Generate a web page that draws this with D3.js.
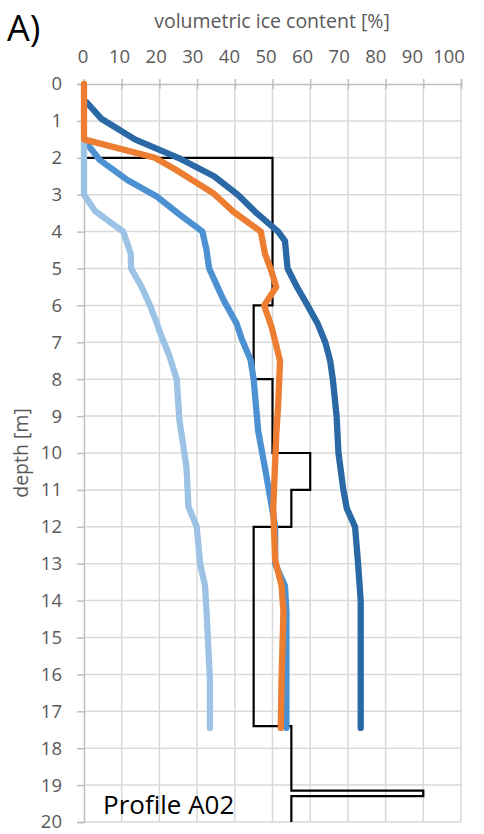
<!DOCTYPE html>
<html>
<head>
<meta charset="utf-8">
<script src="https://cdn.jsdelivr.net/npm/d3@7"></script>
<style>
  html, body { margin: 0; padding: 0; background: #fff; }
  svg { display: block; }
  text { font-family: "Open Sans", sans-serif; }
</style>
</head>
<body>
<svg id="chart" width="484" height="834"></svg>
<script>
// ---- data ----
const xTicks = [0, 10, 20, 30, 40, 50, 60, 70, 80, 90, 100];
const yTicks = d3.range(0, 21);

// stratigraphic ice content (step line): [depth, ice %]
const stepDepth = [2, 2, 6, 6, 8, 8, 10, 10, 11, 11, 12, 12, 17.4, 17.4, 19.15, 19.15, 19.3, 19.3, 20];
const stepIce   = [0, 50, 50, 45, 45, 50, 50, 60, 60, 55, 55, 45, 45, 55, 55, 90, 90, 55, 55];

const depthDark = [0.5, 0.95, 1.5, 2, 2.5, 3, 3.5, 4, 4.25, 5, 5.5, 6, 6.5, 7, 7.5, 8, 9, 10, 11, 11.5, 12, 13, 14, 15, 16, 17.45];
const iceDark   = [0.7, 4.7, 13.5, 25, 34.5, 40.8, 45.8, 51.5, 53.3, 54, 56.5, 59.3, 62, 64, 65.3, 66, 67, 67.5, 68.8, 69.7, 71.9, 72.7, 73.4, 73.4, 73.4, 73.4];

const depthMid = [1.56, 2.06, 2.6, 3.05, 3.55, 4, 4.5, 5, 5.85, 6.5, 6.9, 7.48, 8, 9.4, 10.4, 11.45, 12, 13, 13.6, 14.3, 15, 16, 17.45];
const iceMid   = [0.3, 4.2, 11.5, 19.3, 25.5, 31.4, 32.5, 33.2, 37, 40.5, 41.8, 44.2, 45, 46.2, 48, 49.8, 50.7, 50.7, 53.3, 53.7, 53.7, 53.7, 53.7];

const depthLight = [1.56, 3, 3.45, 4, 4.6, 5, 5.5, 6, 6.4, 6.85, 7.35, 8, 9.1, 10.4, 11.45, 12, 13, 13.6, 14.3, 16.15, 17.45];
const iceLight   = [0, 0, 3, 10.4, 12.4, 12.5, 15.3, 17.5, 19, 20.6, 22.6, 24.6, 25.3, 27.2, 27.7, 29.9, 30.8, 32.1, 32.5, 33.4, 33.4];

const depthOrange = [0, 1.5, 2, 2.33, 2.56, 2.96, 3.46, 4, 4.6, 5.1, 5.5, 6, 6.6, 7.5, 8.7, 9.5, 11.5, 12.9, 13.6, 14.3, 16.15, 17.45];
const iceOrange   = [0, 0, 18.8, 24.5, 28, 34.3, 39.6, 46.9, 48, 49.8, 51, 47.8, 49.8, 52, 51.5, 51, 50.2, 50.7, 52.4, 52.9, 52.4, 52.2];

const seriesList = [
  { name: "dark",   depth: depthDark,   ice: iceDark,   color: "#2a69a6" },
  { name: "mid",    depth: depthMid,    ice: iceMid,    color: "#4c91d1" },
  { name: "light",  depth: depthLight,  ice: iceLight,  color: "#9cc3e6" },
  { name: "orange", depth: depthOrange, ice: iceOrange, color: "#ed7d31" }
];

// ---- layout ----
const svg = d3.select("#chart");
const mLeft = 84, mRight = 461, mTop = 84, mBottom = 822;
const x = d3.scaleLinear().domain([0, 100]).range([mLeft, mRight]);
const xLab = d3.scaleLinear().domain([0, 100]).range([83, 449]);
const y = d3.scaleLinear().domain([0, 20]).range([mTop, mBottom]);

// gridlines
const grid = svg.append("g");
grid.selectAll("line.v").data(xTicks.slice(1)).join("line").attr("class", "v")
  .attr("x1", d => x(d)).attr("x2", d => x(d))
  .attr("y1", mTop).attr("y2", mBottom)
  .attr("stroke", "#d9d9d9").attr("stroke-width", 1.5);
grid.selectAll("line.h").data(yTicks.slice(1)).join("line").attr("class", "h")
  .attr("x1", mLeft).attr("x2", mRight)
  .attr("y1", d => y(d)).attr("y2", d => y(d))
  .attr("stroke", "#d9d9d9").attr("stroke-width", 1.5);

// axes
const axisColor = "#bfbfbf";
const xAxis = d3.axisTop(x).tickValues(xTicks).tickSize(5).tickFormat("");
const gx = svg.append("g").attr("transform", `translate(0,${mTop})`).call(xAxis);
gx.select(".domain").attr("stroke", axisColor).attr("stroke-width", 1.5);
gx.selectAll(".tick line").attr("stroke", axisColor).attr("stroke-width", 1.5).attr("y2", -5).attr("y1", 5);

const yAxis = d3.axisLeft(y).tickValues(yTicks).tickSize(7).tickFormat(d3.format("d")).tickPadding(15);
const gy = svg.append("g").attr("transform", `translate(${mLeft},0)`).call(yAxis);
gy.select(".domain").attr("stroke", axisColor).attr("stroke-width", 1.5);
gy.selectAll(".tick line").attr("stroke", axisColor).attr("stroke-width", 1.5);
gy.selectAll(".tick text").attr("fill", "#595959").style("font-size", "18.5px")
  .style("font-family", "'Open Sans', sans-serif");

// top tick labels
svg.append("g").selectAll("text").data(xTicks).join("text")
  .attr("x", d => xLab(d)).attr("y", 63)
  .attr("text-anchor", "middle").attr("fill", "#595959")
  .style("font-size", "18.5px").text(d => d);

// titles
svg.append("text").attr("x", 272).attr("y", 28).attr("text-anchor", "middle")
  .attr("fill", "#595959").style("font-size", "19.5px").text("volumetric ice content [%]");
svg.append("text").attr("transform", "translate(28,453) rotate(-90)").attr("text-anchor", "middle")
  .attr("fill", "#595959").style("font-size", "19.5px").text("depth [m]");
svg.append("text").attr("x", 7).attr("y", 41).attr("fill", "#000")
  .style("font-size", "36px").text("A)");

// step line
const line = d3.line().x(d => x(d[1])).y(d => y(d[0]));
svg.append("path").datum(d3.zip(stepDepth, stepIce))
  .attr("d", line).attr("fill", "none").attr("stroke", "#000").attr("stroke-width", 2.2);

// series
svg.append("g").selectAll("path").data(seriesList).join("path")
  .attr("d", s => line(d3.zip(s.depth, s.ice)))
  .attr("fill", "none").attr("stroke", s => s.color)
  .attr("stroke-width", 6.3).attr("stroke-linecap", "round").attr("stroke-linejoin", "round");

svg.append("text").attr("x", 103).attr("y", 814).attr("fill", "#000")
  .style("font-size", "26px").text("Profile A02");
</script>
</body>
</html>
